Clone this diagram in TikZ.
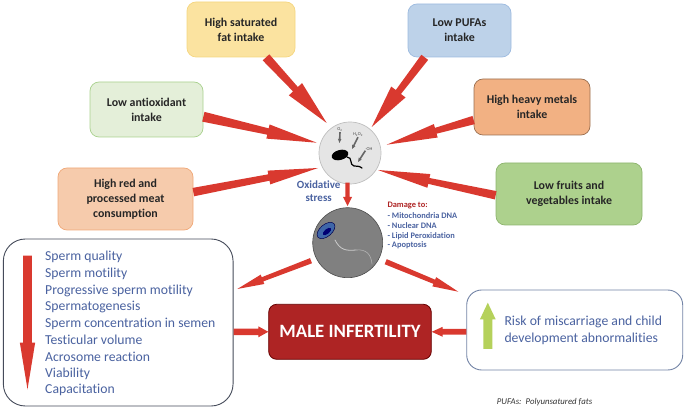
\documentclass[tikz,border=0pt]{standalone}
\usepackage{fontspec}
\setmainfont[Ligatures=NoCommon]{Carlito}
\usetikzlibrary{calc,shapes.geometric}

\definecolor{flowred}{HTML}{D9392F}
\definecolor{inkblue}{HTML}{4A62A0}
\definecolor{deepred}{HTML}{AE2424}
\definecolor{fatfill}{HTML}{FBE3A0}
\definecolor{fatline}{HTML}{F5D680}
\definecolor{antifill}{HTML}{E4EFD9}
\definecolor{antiline}{HTML}{A9D18E}
\definecolor{meatfill}{HTML}{F6CBAC}
\definecolor{meatline}{HTML}{F0A878}
\definecolor{pufafill}{HTML}{BDD2E9}
\definecolor{pufaline}{HTML}{9DBBE0}
\definecolor{metalfill}{HTML}{F2B183}
\definecolor{metalline}{HTML}{9A6F50}
\definecolor{fruitfill}{HTML}{ADD18D}
\definecolor{fruitline}{HTML}{8DB46E}
\definecolor{riseline}{HTML}{B5D15B}
\definecolor{leftedge}{HTML}{454B5A}
\definecolor{rightedge}{HTML}{7384A6}
\definecolor{spermhead}{HTML}{3F66A8}

\tikzset{
  factor/.style={draw, rounded corners=9pt, align=center, line width=0.7pt,
    text=black!85, font=\fontsize{11.9}{15}\selectfont\bfseries},
  bigpanel/.style={draw=#1, fill=white, line width=0.9pt, rounded corners=22pt},
  listline/.style={anchor=west, text=inkblue, inner sep=0pt, font=\fontsize{13.7}{16}\selectfont},
  damageline/.style={anchor=west, text=inkblue, inner sep=0pt, font=\fontsize{8.4}{10}\selectfont\bfseries},
  tinychem/.style={text=black!70, inner sep=0pt, font=\fontsize{4.5}{5}\selectfont},
}

% Tapered arrow: tail, tip, tail width, neck width, head width, head length
\newcommand{\flowarrow}[7][flowred]{%
  \coordinate (neck) at ($(#3)!#7pt!(#2)$);
  \fill[#1]
    ($(#2)!#4/2*1pt!90:(#3)$) --
    ($(neck)!#5/2*1pt!-90:(#2)$) --
    ($(neck)!#6/2*1pt!-90:(#2)$) --
    (#3) --
    ($(neck)!#6/2*1pt!90:(#2)$) --
    ($(neck)!#5/2*1pt!90:(#2)$) --
    ($(#2)!#4/2*1pt!-90:(#3)$) -- cycle;
}

\begin{document}
\begin{tikzpicture}[x=1pt,y=-1pt]
\useasboundingbox (0,0) rectangle (685,411);

% Dietary and environmental factors
\node[factor, fill=fatfill, draw=fatline, minimum width=108pt, minimum height=55pt] (fat) at (241,29.5) {High saturated\\fat intake};
\node[factor, fill=antifill, draw=antiline, minimum width=113pt, minimum height=55pt] (anti) at (146.5,109.5) {Low antioxidant\\intake};
\node[factor, fill=meatfill, draw=meatline, minimum width=135pt, minimum height=62pt] (meat) at (125.5,199) {High red and\\processed meat\\consumption};
\node[factor, fill=pufafill, draw=pufaline, minimum width=103pt, minimum height=53pt] (pufa) at (459.5,30.5) {Low PUFAs\\intake};
\node[factor, fill=metalfill, draw=metalline, minimum width=116pt, minimum height=56pt] (metal) at (532,107) {High heavy metals\\intake};
\node[factor, fill=fruitfill, draw=fruitline, minimum width=146pt, minimum height=62pt] (fruit) at (569,194) {Low fruits and\\vegetables intake};

% Oxidative stress disc with the sperm silhouette
\node[circle, draw=black!25, fill=black!10, line width=0.7pt, minimum size=62pt, inner sep=0pt] (stress) at (350,153) {};
\fill[black, rotate around={15:(340,155)}] (340,155) ellipse (8.5pt and 5pt);
\draw[black, line width=1.2pt, line cap=round] (347,157) .. controls (353,157) and (349,165) .. (354,166) .. controls (357,167) and (358,165) .. (362,168);
\node[tinychem] (o2) at (340,130) {O\textsubscript{2}};
\node[tinychem] (h2o2) at (358,135) {H\textsubscript{2}O\textsubscript{2}};
\node[tinychem] (oh) at (369,149) {·OH};
\coordinate (o2tip) at (339.5,143);
\coordinate (h2o2tip) at (352,149);
\coordinate (ohtip) at (358,162);
\flowarrow[black!60]{o2.south}{o2tip}{1.6}{1.6}{3.5}{4}
\flowarrow[black!60]{h2o2.south}{h2o2tip}{1.6}{1.6}{3.5}{4}
\flowarrow[black!60]{oh.south west}{ohtip}{1.6}{1.6}{3.5}{4}

\node[text=inkblue, align=center, inner sep=0pt, font=\fontsize{11}{13}\selectfont\bfseries] (oxlabel) at (318.7,191.5) {Oxidative\\stress};

% Damaged sperm disc
\node[circle, draw=black!70, fill=black!50, line width=0.6pt, minimum size=70pt, inner sep=0pt] (damage) at (347.7,242.7) {};
\draw[black!20, line width=0.8pt, line cap=round] (335,240) .. controls (340,250) and (346,251) .. (356,250);
\draw[black!30, line width=0.6pt, line cap=round] (356,250) .. controls (366,249) and (371,254) .. (372,264);
\fill[spermhead, draw=black!70!blue, line width=0.5pt, rotate around={40:(326,230.5)}] (326,230.5) ellipse (10.5pt and 6pt);
\fill[black!55!blue, rotate around={40:(327,231.5)}] (327,231.5) ellipse (5pt and 2.4pt);

\node[anchor=west, text=deepred, inner sep=0pt, font=\fontsize{8.4}{10}\selectfont\bfseries] (dmg0) at (387.3,205) {Damage to:};
\node[damageline] (dmg1) at (387.3,215.3) {- Mitochondria DNA};
\node[damageline] (dmg2) at (387.3,225.5) {- Nuclear DNA};
\node[damageline] (dmg3) at (387.3,236) {- Lipid Peroxidation};
\node[damageline] (dmg4) at (387.3,245.7) {- Apoptosis};

% Panels and central outcome
\node[bigpanel=leftedge, minimum width=229.7pt, minimum height=167pt] (left) at (118.2,322.5) {};
\node[bigpanel=rightedge, rounded corners=15pt, minimum width=216pt, minimum height=80pt] (right) at (574.7,330) {};
\node[draw=black!60!red, fill=deepred, rounded corners=8pt, line width=0.8pt, minimum width=162.6pt, minimum height=55pt, text=white, font=\fontsize{18.8}{22}\selectfont\bfseries] (male) at (350,331.8) {MALE INFERTILITY};

\node[listline] (l1) at (45,256.7) {Sperm quality};
\node[listline] (l2) at (45,273.7) {Sperm motility};
\node[listline] (l3) at (45,290.7) {Progressive sperm motility};
\node[listline] (l4) at (45,307) {Spermatogenesis};
\node[listline] (l5) at (45,324) {Sperm concentration in semen};
\node[listline] (l6) at (45,340) {Testicular volume};
\node[listline] (l7) at (45,357) {Acrosome reaction};
\node[listline] (l8) at (45,373.7) {Viability};
\node[listline] (l9) at (45,390) {Capacitation};

\node[listline] (r1) at (504.3,322) {Risk of miscarriage and child};
\node[listline] (r2) at (504.3,338.7) {development abnormalities};

\node[anchor=west, inner sep=0pt, text=black!80, font=\fontsize{8.8}{10}\selectfont\itshape] (note) at (496.7,401.7) {PUFAs:\, Polyunsatured fats};

% Arrows from the factors to the oxidative stress disc
\coordinate (fatT) at ($(fat.south west)!0.73!(fat.south east)$);
\coordinate (antiT) at ($(anti.north east)!0.63!(anti.south east)$);
\coordinate (meatT) at ($(meat.north east)!0.39!(meat.south east)$);
\coordinate (pufaT) at ($(pufa.south west)!0.165!(pufa.south east)$);
\coordinate (metalT) at ($(metal.north west)!0.73!(metal.south west)$);
\coordinate (fruitT) at ($(fruit.north west)!0.52!(fruit.south west)$);
\coordinate (fatH) at (326.7,123);
\coordinate (antiH) at (316.7,142.7);
\coordinate (meatH) at (318,168);
\coordinate (pufaH) at (371.7,127);
\coordinate (metalH) at (386.7,144.7);
\coordinate (fruitH) at (378,170);
\flowarrow{fatT}{fatH}{9}{6.5}{18}{46}
\flowarrow{antiT}{antiH}{10}{6.5}{14.5}{50}
\flowarrow{meatT}{meatH}{8.5}{6.5}{14}{50}
\flowarrow{pufaT}{pufaH}{8.5}{6.5}{18}{44}
\flowarrow{metalT}{metalH}{8.5}{6}{14}{51}
\flowarrow{fruitT}{fruitH}{8.5}{6}{14}{52}

% Arrows between the discs, panels and outcome
\coordinate (stressT) at (347.5,182.7);
\coordinate (damageH) at (347.5,206);
\flowarrow{stressT}{damageH}{4.4}{4.4}{9}{9}
\coordinate (dmgL) at (311,260.7);
\coordinate (leftH) at (237.3,289);
\flowarrow{dmgL}{leftH}{5.5}{4.5}{10}{27}
\coordinate (dmgR) at (385.7,261.7);
\coordinate (rightH) at (458.3,291.7);
\flowarrow{dmgR}{rightH}{5.5}{4.5}{10}{26}
\coordinate (leftT) at (left.east |- male.west);
\flowarrow{leftT}{male.west}{6.5}{6.5}{11}{10}
\coordinate (rightT) at (right.west |- male.east);
\flowarrow{rightT}{male.east}{5.7}{5.7}{10}{11}

% Trend arrows inside the panels
\coordinate (downT) at (27.5,255.7);
\coordinate (downH) at (27.5,389.3);
\flowarrow{downT}{downH}{8.7}{8.7}{15.3}{46.6}
\coordinate (upT) at (487.8,349);
\coordinate (upH) at (487.8,302.7);
\flowarrow[riseline]{upT}{upH}{9}{9}{15.7}{16.6}

\end{tikzpicture}
\end{document}
